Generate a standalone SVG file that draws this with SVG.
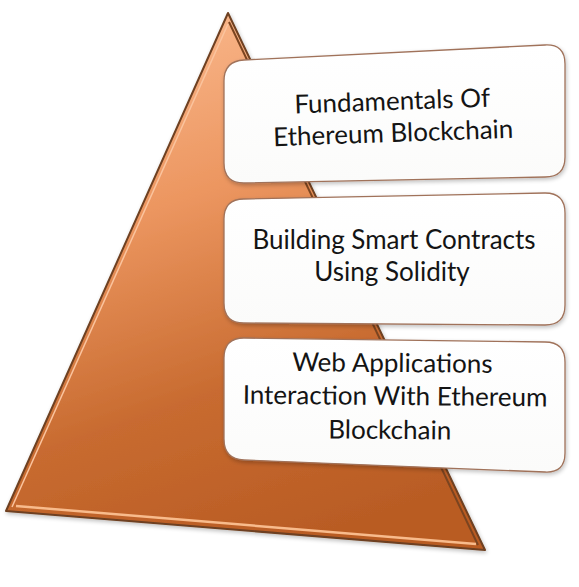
<svg xmlns="http://www.w3.org/2000/svg" width="579" height="587" viewBox="0 0 579 587">
<defs>
<linearGradient id="tri" x1="0.25" y1="0" x2="0.55" y2="1">
<stop offset="0" stop-color="#fab98e"/>
<stop offset="0.35" stop-color="#ec9660"/>
<stop offset="0.7" stop-color="#c86b30"/>
<stop offset="1" stop-color="#b95c24"/>
</linearGradient>
<linearGradient id="box" x1="0" y1="0" x2="0" y2="1">
<stop offset="0" stop-color="#ffffff"/>
<stop offset="1" stop-color="#fbfbfa"/>
</linearGradient>
<filter id="sh" x="-10%" y="-10%" width="120%" height="130%">
<feGaussianBlur in="SourceAlpha" stdDeviation="2"/>
<feOffset dx="1" dy="2"/>
<feComponentTransfer><feFuncA type="linear" slope="0.25"/></feComponentTransfer>
<feMerge><feMergeNode/><feMergeNode in="SourceGraphic"/></feMerge>
</filter>
</defs>
<style>
.bx{fill:url(#box);stroke:#a0725a;stroke-width:1.3}
.t{font-family:"Lato","Open Sans","Liberation Sans",sans-serif;font-size:26px;fill:#141414;text-anchor:middle}
</style>
<rect width="579" height="587" fill="#ffffff"/>
<g id="pyramid">
<path d="M228,13 L485,550 L6,511 Z" fill="url(#tri)" stroke="#6e4020" stroke-width="2" stroke-linejoin="round" filter="url(#sh)"/>
<path d="M228,24 L12,507" stroke="#fbc49e" stroke-width="1.5" fill="none"/>
<path d="M229,22 L478,545" stroke="#7a4420" stroke-width="2" fill="none"/>
<path d="M16,506 L476,544" stroke="#f8bb8c" stroke-width="2.5" fill="none"/>
</g>
<g id="node1">
<path class="bx" filter="url(#sh)" d="M224,81 Q224,61 244,60 L545,45 Q565,44 565,64 L565,157 Q565,177 545,177 L244,183 Q224,183 224,163 Z"/>
<g transform="rotate(-2 393 125)">
<text class="t" x="393" y="110">Fundamentals Of</text>
<text class="t" x="393" y="142">Ethereum Blockchain</text>
</g>
</g>
<g id="node2">
<path class="bx" filter="url(#sh)" d="M224,219 Q224,199 244,199 L545,193 Q565,193 565,213 L565,305 Q565,325 545,325 L244,323 Q224,323 224,303 Z"/>
<text class="t" x="394" y="249">Building Smart Contracts</text>
<text class="t" x="392" y="281">Using Solidity</text>
</g>
<g id="node3">
<path class="bx" filter="url(#sh)" d="M224,358 Q224,338 244,338 L545,342 Q565,342 565,362 L565,453 Q565,473 545,472 L244,460 Q224,459 224,439 Z"/>
<g transform="rotate(0.5 393 405)">
<text class="t" x="392" y="372">Web Applications</text>
<text class="t" x="395" y="405">Interaction With Ethereum</text>
<text class="t" x="390" y="439">Blockchain</text>
</g>
</g>
<g id="connectors"/>
</svg>
